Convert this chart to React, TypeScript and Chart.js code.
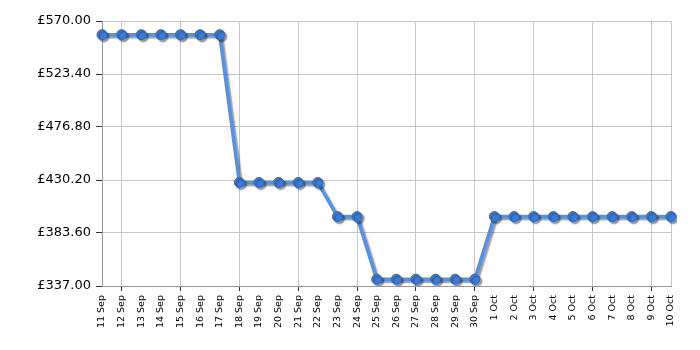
import React, { useEffect, useRef } from "react";
import { Chart, registerables } from "chart.js";

Chart.register(...registerables);

const dates: string[] = [
  "11 Sep", "12 Sep", "13 Sep", "14 Sep", "15 Sep", "16 Sep", "17 Sep", "18 Sep", "19 Sep", "20 Sep",
  "21 Sep", "22 Sep", "23 Sep", "24 Sep", "25 Sep", "26 Sep", "27 Sep", "28 Sep", "29 Sep", "30 Sep",
  "1 Oct", "2 Oct", "3 Oct", "4 Oct", "5 Oct", "6 Oct", "7 Oct", "8 Oct", "9 Oct", "10 Oct",
];

const prices: number[] = [
  558, 558, 558, 558, 558, 558, 558,
  428, 428, 428, 428, 428,
  398, 398,
  343, 343, 343, 343, 343, 343,
  398, 398, 398, 398, 398, 398, 398, 398, 398, 398,
];

const yTicks: number[] = [337, 383.6, 430.2, 476.8, 523.4, 570];

const shadowPlugin = {
  id: "lineShadow",
  beforeDatasetsDraw(chart: any) {
    const ctx = chart.ctx;
    ctx.save();
    ctx.shadowColor = "rgba(0,0,0,0.4)";
    ctx.shadowOffsetX = 2;
    ctx.shadowOffsetY = 2;
    ctx.shadowBlur = 1.5;
  },
  afterDatasetsDraw(chart: any) {
    chart.ctx.restore();
  },
};

export default function App() {
  const ref = useRef<HTMLCanvasElement | null>(null);

  useEffect(() => {
    if (!ref.current) return;
    const gridVisible = (i: number) => i === 29 || (i - 1) % 3 === 0;
    const chart = new Chart(ref.current, {
      type: "line",
      data: {
        labels: dates,
        datasets: [
          {
            data: prices,
            borderColor: "#5592e4",
            borderWidth: 3.5,
            pointBackgroundColor: "#3d7ad3",
            pointBorderColor: "#3469b8",
            pointBorderWidth: 1,
            pointRadius: 5,
            tension: 0,
          },
        ],
      },
      options: {
        animation: false,
        responsive: false,
        maintainAspectRatio: false,
        layout: { padding: { top: 21, right: 29, left: 0, bottom: 0 } },
        plugins: { legend: { display: false }, tooltip: { enabled: false } },
        scales: {
          x: {
            type: "category",
            offset: false,
            afterFit(scale: any) {
              scale.height = 64;
            },
            grid: {
              color: (c: any) => (gridVisible(c.index) ? "#c8c8c8" : "rgba(0,0,0,0)"),
              tickColor: (c: any) => (gridVisible(c.index) && c.index !== 29 ? "#333333" : "rgba(0,0,0,0)"),
              tickLength: 5,
              lineWidth: 1,
            },
            border: { color: "#999999", width: 1 },
            ticks: {
              autoSkip: false,
              maxRotation: 90,
              minRotation: 90,
              padding: 4,
              color: "#000000",
              font: { family: "DejaVu Sans", size: 9.5 },
            },
          },
          y: {
            min: 337,
            max: 570,
            afterBuildTicks(scale: any) {
              scale.ticks = yTicks.map((v) => ({ value: v }));
            },
            afterFit(scale: any) {
              scale.width = 102;
            },
            grid: {
              color: "#c8c8c8",
              tickColor: "#333333",
              tickLength: 6,
            },
            border: { color: "#999999", width: 1 },
            ticks: {
              padding: 5,
              color: "#000000",
              font: { family: "DejaVu Sans", size: 13 },
              callback: (v: any) => "£" + Number(v).toFixed(2),
            },
          },
        },
      },
      plugins: [shadowPlugin],
    });
    return () => chart.destroy();
  }, []);

  return (
    <div style={{ position: "fixed", left: 0, top: 0, width: 700, height: 350, background: "#fff" }}>
      <canvas ref={ref} width={700} height={350} style={{ width: 700, height: 350 }} />
    </div>
  );
}
